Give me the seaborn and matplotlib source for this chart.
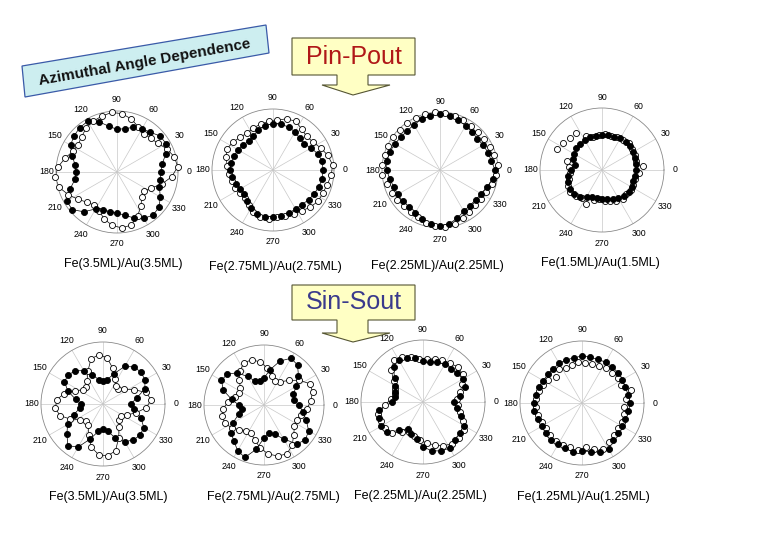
import numpy as np
import pandas as pd
import matplotlib
matplotlib.use("Agg")
import matplotlib.pyplot as plt
import seaborn as sns
from matplotlib.patches import Polygon
from matplotlib.transforms import Affine2D

sns.set_theme(style="white")
plt.rcParams['font.family'] = ['Liberation Sans', 'DejaVu Sans']

# ---------------- data ----------------
ANGLES_FILLED = [0, 10, 20, 30, 40, 50, 60, 70, 80, 90, 100, 110, 120, 130, 140, 150, 160, 170,
                 180, 190, 200, 210, 220, 230, 240, 250, 260, 270, 280, 290, 300, 310, 320, 330, 340, 350]
ANGLES_OPEN = [5, 15, 25, 35, 45, 55, 65, 75, 85, 95, 105, 115, 125, 135, 145, 155, 165, 175,
               185, 195, 205, 215, 225, 235, 245, 255, 265, 275, 285, 295, 305, 315, 325, 335, 345, 355]
TICK_ANGLES = [0, 30, 60, 90, 120, 150, 180, 210, 240, 270, 300, 330]
TICK_LABELS = ["0", "30", "60", "90", "120", "150", "180", "210", "240", "270", "300", "330"]

TITLES = ["Fe(3.5ML)/Au(3.5ML)", "Fe(2.75ML)/Au(2.75ML)", "Fe(2.25ML)/Au(2.25ML)", "Fe(1.5ML)/Au(1.5ML)",
          "Fe(3.5ML)/Au(3.5ML)", "Fe(2.75ML)/Au(2.75ML)", "Fe(2.25ML)/Au(2.25ML)", "Fe(1.25ML)/Au(1.25ML)"]

P1_FILLED = [0.72, 0.75, 0.85, 0.93, 0.92, 0.85, 0.82, 0.78, 0.72, 0.70, 0.76, 0.88, 0.96, 0.95, 0.92, 0.88, 0.78, 0.70,
             0.67, 0.70, 0.82, 0.95, 0.96, 0.85, 0.70, 0.66, 0.66, 0.67, 0.72, 0.80, 0.88, 0.92, 0.90, 0.82, 0.74, 0.72]
P1_OPEN = [1.00, 0.97, 0.90, 0.82, 0.78, 0.77, 0.82, 0.90, 0.96, 0.98, 0.95, 0.92, 0.88, 0.82, 0.78, 0.80, 0.88, 0.97,
           1.02, 0.98, 0.88, 0.78, 0.70, 0.66, 0.70, 0.80, 0.88, 0.92, 0.90, 0.80, 0.68, 0.58, 0.55, 0.62, 0.76, 0.90]

P2_FILLED = [0.82, 0.82, 0.78, 0.72, 0.67, 0.68, 0.72, 0.75, 0.76, 0.76, 0.74, 0.70, 0.64, 0.62, 0.64, 0.66, 0.68, 0.70,
             0.70, 0.68, 0.65, 0.62, 0.62, 0.66, 0.72, 0.77, 0.78, 0.77, 0.76, 0.75, 0.74, 0.74, 0.76, 0.78, 0.80, 0.82]
P2_OPEN = [0.98, 0.93, 0.86, 0.80, 0.78, 0.82, 0.88, 0.87, 0.82, 0.80, 0.78, 0.76, 0.74, 0.76, 0.80, 0.83, 0.80, 0.75,
           0.72, 0.70, 0.68, 0.66, 0.66, 0.70, 0.76, 0.80, 0.80, 0.78, 0.78, 0.80, 0.82, 0.86, 0.90, 0.90, 0.92, 0.96]

P3_FILLED = [0.95, 0.90, 0.88, 0.86, 0.84, 0.86, 0.88, 0.92, 0.95, 0.96, 0.95, 0.93, 0.90, 0.88, 0.88, 0.90, 0.92, 0.93,
             0.92, 0.88, 0.85, 0.84, 0.84, 0.84, 0.86, 0.90, 0.94, 0.96, 0.94, 0.88, 0.82, 0.80, 0.80, 0.82, 0.86, 0.92]
P3_OPEN = [1.00, 0.97, 0.95, 0.93, 0.92, 0.93, 0.95, 0.97, 0.99, 1.00, 1.00, 0.99, 0.98, 0.98, 0.98, 0.98, 0.99, 1.00,
           1.00, 0.95, 0.92, 0.90, 0.88, 0.88, 0.90, 0.94, 0.97, 0.99, 0.97, 0.92, 0.88, 0.86, 0.86, 0.88, 0.92, 0.97]

P4_FILLED = [0.55, 0.55, 0.56, 0.58, 0.60, 0.60, 0.59, 0.57, 0.58, 0.57, 0.56, 0.56, 0.56, 0.55, 0.54, 0.52, 0.50, 0.45,
             0.50, 0.55, 0.58, 0.60, 0.60, 0.56, 0.50, 0.47, 0.46, 0.46, 0.47, 0.50, 0.52, 0.55, 0.56, 0.55, 0.54, 0.54]
P4_OPEN = [0.67, 0.57, 0.58, 0.60, 0.62, 0.60, 0.58, 0.57, 0.58, 0.56, 0.55, 0.60, 0.72, 0.74, 0.77, 0.80, 0.58, 0.53,
           0.52, 0.55, 0.60, 0.63, 0.60, 0.55, 0.60, 0.50, 0.47, 0.50, 0.52, 0.55, 0.58, 0.55, 0.57, 0.56, 0.55, 0.60]

P5_FILLED = [0.45, 0.55, 0.72, 0.78, 0.80, 0.78, 0.70, 0.52, 0.40, 0.37, 0.40, 0.50, 0.62, 0.70, 0.73, 0.72, 0.60, 0.45,
             0.35, 0.38, 0.50, 0.66, 0.76, 0.88, 0.80, 0.60, 0.45, 0.40, 0.45, 0.58, 0.70, 0.76, 0.78, 0.76, 0.65, 0.50]
P5_OPEN = [0.78, 0.72, 0.55, 0.42, 0.35, 0.36, 0.45, 0.60, 0.75, 0.80, 0.75, 0.58, 0.45, 0.38, 0.40, 0.50, 0.65, 0.75,
           0.77, 0.72, 0.58, 0.45, 0.38, 0.42, 0.55, 0.72, 0.82, 0.84, 0.78, 0.60, 0.45, 0.36, 0.35, 0.42, 0.55, 0.70]

P6_FILLED = [0.58, 0.50, 0.52, 0.62, 0.75, 0.87, 0.90, 0.78, 0.60, 0.45, 0.40, 0.42, 0.55, 0.70, 0.80, 0.82, 0.72, 0.55,
             0.42, 0.38, 0.45, 0.60, 0.72, 0.78, 0.88, 0.93, 0.75, 0.55, 0.48, 0.52, 0.65, 0.85, 0.90, 0.86, 0.75, 0.66]
P6_OPEN = [0.78, 0.84, 0.84, 0.72, 0.58, 0.47, 0.45, 0.50, 0.62, 0.72, 0.78, 0.78, 0.70, 0.58, 0.48, 0.46, 0.50, 0.60,
           0.68, 0.72, 0.72, 0.66, 0.58, 0.52, 0.52, 0.60, 0.72, 0.82, 0.88, 0.90, 0.82, 0.70, 0.62, 0.60, 0.64, 0.72]

P7_FILLED = [0.50, 0.60, 0.72, 0.74, 0.72, 0.70, 0.70, 0.68, 0.66, 0.66, 0.72, 0.76, 0.79, 0.74, 0.60, 0.52, 0.48, 0.46,
             0.50, 0.72, 0.76, 0.78, 0.76, 0.60, 0.50, 0.55, 0.60, 0.72, 0.80, 0.84, 0.86, 0.80, 0.78, 0.76, 0.65, 0.55]
P7_OPEN = [0.55, 0.62, 0.70, 0.78, 0.80, 0.76, 0.74, 0.72, 0.70, 0.70, 0.75, 0.80, 0.82, 0.72, 0.58, 0.50, 0.47, 0.52,
           0.62, 0.75, 0.74, 0.74, 0.70, 0.60, 0.54, 0.56, 0.62, 0.66, 0.72, 0.78, 0.82, 0.82, 0.80, 0.72, 0.62, 0.56]

P8_FILLED = [0.78, 0.76, 0.74, 0.75, 0.76, 0.76, 0.76, 0.75, 0.75, 0.76, 0.74, 0.74, 0.74, 0.72, 0.72, 0.72, 0.74, 0.76,
             0.78, 0.78, 0.76, 0.74, 0.76, 0.78, 0.76, 0.78, 0.80, 0.78, 0.80, 0.84, 0.86, 0.78, 0.76, 0.74, 0.74, 0.76]
P8_OPEN = [0.72, 0.82, 0.70, 0.70, 0.68, 0.68, 0.66, 0.65, 0.64, 0.66, 0.64, 0.62, 0.66, 0.60, 0.66, 0.70, 0.72, 0.74,
           0.75, 0.74, 0.72, 0.70, 0.72, 0.74, 0.74, 0.74, 0.76, 0.72, 0.76, 0.82, 0.76, 0.72, 0.70, 0.72, 0.70, 0.68]

FILLED = [P1_FILLED, P2_FILLED, P3_FILLED, P4_FILLED, P5_FILLED, P6_FILLED, P7_FILLED, P8_FILLED]
OPEN = [P1_OPEN, P2_OPEN, P3_OPEN, P4_OPEN, P5_OPEN, P6_OPEN, P7_OPEN, P8_OPEN]
# which series get a connecting curve in each panel
LINE_FILLED = [True, True, True, True, True, True, True, True]
LINE_OPEN = [True, True, False, False, True, True, True, False]

# ---------------- layout (pixels, top-left origin) ----------------
W, H = 780, 540
PANELS = [(117, 172, 61), (273, 170, 61), (440, 170, 58), (602, 170, 62),
          (103, 404, 62), (264, 405, 60), (423, 402, 62), (582, 403, 62)]
TITLE_POS = [(123, 264), (275, 267), (437, 266), (600, 263),
             (108, 497), (273, 497), (420, 496), (583, 497)]
LABEL_GAP_PX = 11
LABEL_FONT = ['Liberation Sans Narrow', 'Liberation Sans', 'DejaVu Sans']

fig = plt.figure(figsize=(W / 100, H / 100), dpi=100)
fig.patch.set_facecolor("white")
PX = Affine2D().scale(1 / W, -1 / H).translate(0, 1) + fig.transFigure


def closed(ang, r):
    a = list(ang) + [ang[0] + 360]
    rr = list(r) + [r[0]]
    return np.deg2rad(a), np.array(rr)


for i, (cx, cy, rad) in enumerate(PANELS):
    ax = fig.add_axes([(cx - rad) / W, 1 - (cy + rad) / H, 2 * rad / W, 2 * rad / H], projection="polar")
    ax.set_facecolor("none")
    df_f = pd.DataFrame({"theta": np.deg2rad(ANGLES_FILLED), "r": FILLED[i]})
    df_o = pd.DataFrame({"theta": np.deg2rad(ANGLES_OPEN), "r": OPEN[i]})
    if LINE_FILLED[i]:
        t, r = closed(ANGLES_FILLED, FILLED[i])
        sns.lineplot(x=t, y=r, sort=False, estimator=None, ax=ax, color="black", lw=0.5)
    if LINE_OPEN[i]:
        t, r = closed(ANGLES_OPEN, OPEN[i])
        sns.lineplot(x=t, y=r, sort=False, estimator=None, ax=ax, color="black", lw=0.5)
    sns.scatterplot(data=df_o, x="theta", y="r", ax=ax, color="white", edgecolor="black",
                    s=19, linewidth=0.6, clip_on=False, zorder=3)
    sns.scatterplot(data=df_f, x="theta", y="r", ax=ax, color="black", edgecolor="black",
                    s=19, linewidth=0.6, clip_on=False, zorder=4)
    ax.set_ylim(0, 1.0)
    ax.set_yticks([])
    ax.set_xticks(np.deg2rad(TICK_ANGLES))
    ax.set_xticklabels([])
    ax.xaxis.grid(True, color="#c8c8c8", lw=0.5)
    ax.spines["polar"].set_color("#8a8a8a")
    ax.spines["polar"].set_linewidth(0.6)
    ax.set_xlabel("")
    ax.set_ylabel("")
    gap = LABEL_GAP_PX
    for a, lab in zip(TICK_ANGLES, TICK_LABELS):
        g = gap - 2 if lab == "180" else gap
        ax.text(np.deg2rad(a), 1 + g / rad, lab, ha="center", va="center", fontsize=6.3,
                family=LABEL_FONT, clip_on=False, color="black")
    tx, ty = TITLE_POS[i]
    fig.text(tx / W, 1 - ty / H, TITLES[i], ha="center", va="center", fontsize=9.0, color="black")

# ---------------- decorations ----------------
az_box = [(22, 66), (266, 25), (269, 53), (25, 97)]
fig.add_artist(Polygon(az_box, closed=True, transform=PX, facecolor="#cdeef0",
                       edgecolor="#3a5aa8", lw=0.9))
fig.text(145 / W, 1 - 62 / H, "Azimuthal Angle Dependence", rotation=10, rotation_mode="anchor",
         ha="center", va="center", fontsize=11, fontweight="bold", color="#111111")

pin_arrow = [(292, 38), (415, 38), (415, 75), (368, 75), (368, 85), (390, 85), (353, 95),
             (322, 85), (337, 85), (337, 75), (292, 75)]
fig.add_artist(Polygon(pin_arrow, closed=True, transform=PX, facecolor="#ffffc4",
                       edgecolor="#555533", lw=0.8))
fig.text(354 / W, 1 - 57 / H, "Pin-Pout", ha="center", va="center", fontsize=18, color="#b01818")

sin_arrow = [(292, 285), (415, 285), (415, 320), (368, 320), (368, 333), (390, 333), (353, 342),
             (322, 333), (337, 333), (337, 320), (292, 320)]
fig.add_artist(Polygon(sin_arrow, closed=True, transform=PX, facecolor="#ffffc4",
                       edgecolor="#555533", lw=0.8))
fig.text(354 / W, 1 - 302 / H, "Sin-Sout", ha="center", va="center", fontsize=18, color="#3a3a8c")

fig.savefig("out.png", dpi=100, facecolor="white")
